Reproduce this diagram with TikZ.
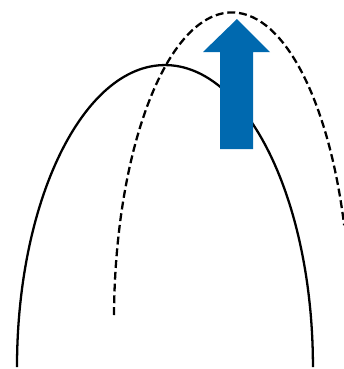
\documentclass[tikz,border=0pt]{standalone}
\usepackage{xcolor}
\usepackage{tikz}
\usetikzlibrary{arrows.meta, positioning}
\definecolor{pushblue}{HTML}{0069AF}

\begin{document}
\begin{tikzpicture}[
        x=0.02cm, y=-0.02cm,
        path/.style={line width=1.3pt, black},
        shifted/.style={line width=1.3pt, black, dash pattern=on 4.5pt off 2.2pt},
        push/.style={fill=pushblue, draw=none}
    ]
        \useasboundingbox (0,0) rectangle (343,369);

        % Old path
        \draw[path] (17,367) arc[start angle=180, end angle=0, x radius=2.96cm, y radius=6.04cm];

        % Shifted path
        \draw[shifted] (114,315) arc[start angle=179, end angle=18, x radius=2.36cm, y radius=6.16cm];

        % Push arrow
        \fill[push] (220,149) -- (220,52) -- (203,52) -- (237,19) -- (270,52) -- (253,52) -- (253,149) -- cycle;
    \end{tikzpicture}
\end{document}
